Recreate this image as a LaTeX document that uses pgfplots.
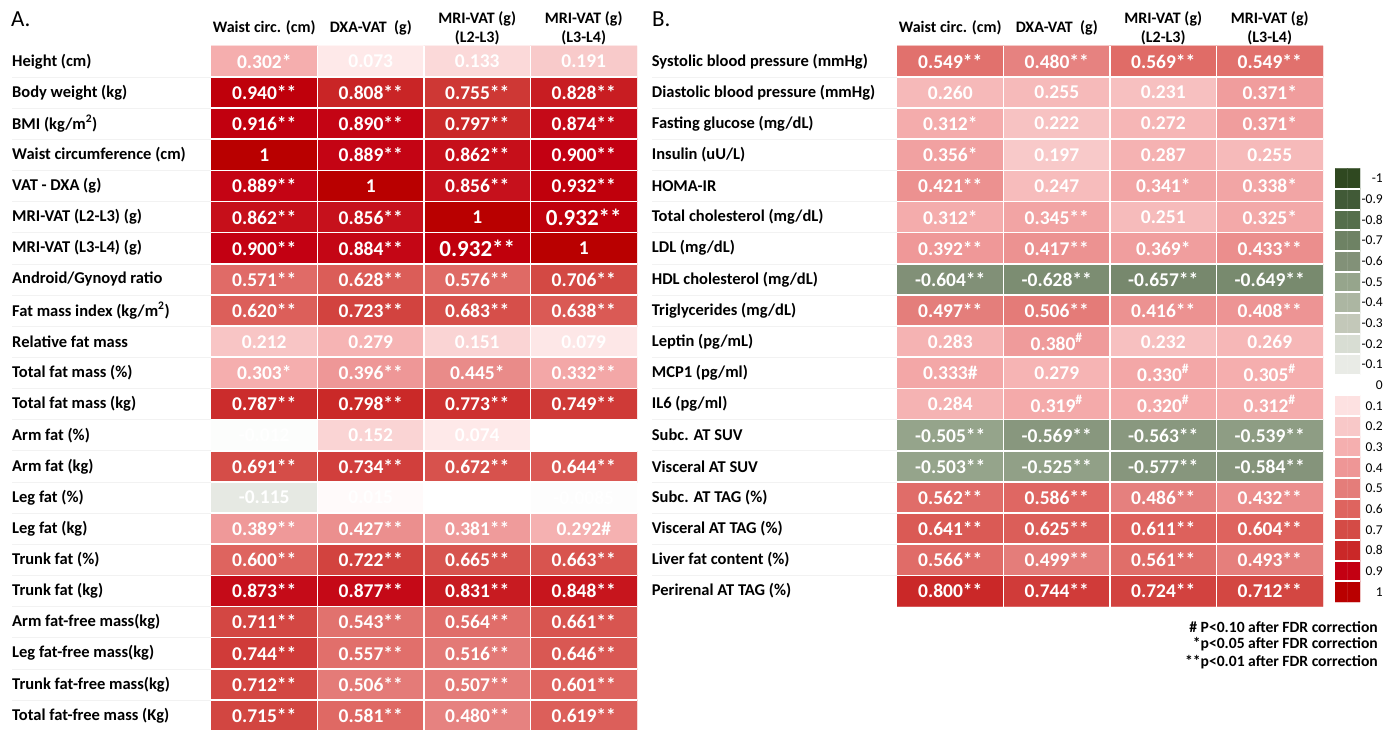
\documentclass[border=0pt]{standalone}
\usepackage{fontspec}
\setmainfont{Carlito}
\usepackage{pgfplots}
\usepackage{pgfplotstable}
\pgfplotsset{compat=1.18}
\newcommand\hs{\textsuperscript{\#}}
\newcommand\hh{\#}
\newcommand\fs[1]{\fontsize{#1}{#1}\selectfont}
\newcommand\bg[1]{{\fontsize{23}{23}\selectfont #1}}

\pgfplotsset{
  colormap={rg}{rgb255=(47,72,32) rgb255=(65,90,55) rgb255=(85,110,75) rgb255=(110,130,100) rgb255=(130,145,120) rgb255=(150,165,140) rgb255=(172,182,162) rgb255=(195,200,185) rgb255=(216,221,211) rgb255=(233,235,230) rgb255=(255,255,255) rgb255=(253,225,225) rgb255=(248,200,200) rgb255=(245,175,175) rgb255=(238,150,150) rgb255=(228,125,122) rgb255=(222,100,95) rgb255=(212,75,70) rgb255=(202,40,40) rgb255=(195,0,18) rgb255=(185,0,0)},
  heat/.style={
    scale only axis, enlargelimits=false,
    axis line style={draw=none},
    major tick length=0pt, minor tick length=0pt,
    xmin=-0.5, xmax=3.5,
    xtick={0,1,2,3}, xticklabel pos=top,
    xticklabels={{Waist circ. (cm)},{DXA-VAT\ \ (g)},{MRI-VAT (g)\\(L2-L3)},{MRI-VAT (g)\\(L3-L4)}},
    xticklabel style={anchor=center, yshift=18pt, align=center, inner sep=0pt, font=\bfseries\fontsize{16}{19}\selectfont},
    yticklabel style={anchor=west, inner sep=0pt, font=\bfseries\fs{16.5}},
    minor xtick={0.5,1.5,2.5},
    xminorgrids, yminorgrids, minor grid style={white, line width=1.6pt},
    axis on top,
    colormap name=rg, point meta min=-1, point meta max=1,
  },
  over/.style={
    scale only axis, enlargelimits=false, hide axis, clip=false,
    xmin=-0.5, xmax=3.5,
  },
  vals/.style={draw=none, mark=none, point meta=none,
     visualization depends on={value \coordindex \as \idx},
     nodes near coords={\pgfplotstablegetelem{\idx}{lab}\of#1\pgfplotsretval},
     every node near coord/.append style={anchor=center, text=white, inner sep=0pt, font=\bfseries\fs{19.5}}},
}

\pgfplotstableread{
x y v lab
0 0 0.302 0.302*
1 0 0.073 0.073
2 0 0.133 0.133
3 0 0.191 0.191
0 -1 0.940 0.940**
1 -1 0.808 0.808**
2 -1 0.755 0.755**
3 -1 0.828 0.828**
0 -2 0.916 0.916**
1 -2 0.890 0.890**
2 -2 0.797 0.797**
3 -2 0.874 0.874**
0 -3 1 1
1 -3 0.889 0.889**
2 -3 0.862 0.862**
3 -3 0.900 0.900**
0 -4 0.889 0.889**
1 -4 1 1
2 -4 0.856 0.856**
3 -4 0.932 0.932**
0 -5 0.862 0.862**
1 -5 0.856 0.856**
2 -5 1 1
3 -5 0.932 \bg{0.932**}
0 -6 0.900 0.900**
1 -6 0.884 0.884**
2 -6 0.932 \bg{0.932**}
3 -6 1 1
0 -7 0.571 0.571**
1 -7 0.628 0.628**
2 -7 0.576 0.576**
3 -7 0.706 0.706**
0 -8 0.620 0.620**
1 -8 0.723 0.723**
2 -8 0.683 0.683**
3 -8 0.638 0.638**
0 -9 0.212 0.212
1 -9 0.279 0.279
2 -9 0.151 0.151
3 -9 0.079 0.079
0 -10 0.303 0.303*
1 -10 0.396 0.396**
2 -10 0.445 0.445*
3 -10 0.332 0.332**
0 -11 0.787 0.787**
1 -11 0.798 0.798**
2 -11 0.773 0.773**
3 -11 0.749 0.749**
0 -12 -0.012 -0.012
1 -12 0.152 0.152
2 -12 0.074 0.074
3 -12 0 {}
0 -13 0.691 0.691**
1 -13 0.734 0.734**
2 -13 0.672 0.672**
3 -13 0.644 0.644**
0 -14 -0.115 -0.115
1 -14 0.015 0.015
2 -14 -0.002 -0.002
3 -14 -0.0085 -0.0085
0 -15 0.389 0.389**
1 -15 0.427 0.427**
2 -15 0.381 0.381**
3 -15 0.292 0.292\hh
0 -16 0.600 0.600**
1 -16 0.722 0.722**
2 -16 0.665 0.665**
3 -16 0.663 0.663**
0 -17 0.873 0.873**
1 -17 0.877 0.877**
2 -17 0.831 0.831**
3 -17 0.848 0.848**
0 -18 0.711 0.711**
1 -18 0.543 0.543**
2 -18 0.564 0.564**
3 -18 0.661 0.661**
0 -19 0.744 0.744**
1 -19 0.557 0.557**
2 -19 0.516 0.516**
3 -19 0.646 0.646**
0 -20 0.712 0.712**
1 -20 0.506 0.506**
2 -20 0.507 0.507**
3 -20 0.601 0.601**
0 -21 0.715 0.715**
1 -21 0.581 0.581**
2 -21 0.480 0.480**
3 -21 0.619 0.619**
}\tabA

\pgfplotstableread{
x y v lab
0 0 0.549 0.549**
1 0 0.480 0.480**
2 0 0.569 0.569**
3 0 0.549 0.549**
0 -1 0.260 0.260
1 -1 0.255 0.255
2 -1 0.231 0.231
3 -1 0.371 0.371*
0 -2 0.312 0.312*
1 -2 0.222 0.222
2 -2 0.272 0.272
3 -2 0.371 0.371*
0 -3 0.356 0.356*
1 -3 0.197 0.197
2 -3 0.287 0.287
3 -3 0.255 0.255
0 -4 0.421 0.421**
1 -4 0.247 0.247
2 -4 0.341 0.341*
3 -4 0.338 0.338*
0 -5 0.312 0.312*
1 -5 0.345 0.345**
2 -5 0.251 0.251
3 -5 0.325 0.325*
0 -6 0.392 0.392**
1 -6 0.417 0.417**
2 -6 0.369 0.369*
3 -6 0.433 0.433**
0 -7 -0.604 -0.604**
1 -7 -0.628 -0.628**
2 -7 -0.657 -0.657**
3 -7 -0.649 -0.649**
0 -8 0.497 0.497**
1 -8 0.506 0.506**
2 -8 0.416 0.416**
3 -8 0.408 0.408**
0 -9 0.283 0.283
1 -9 0.380 0.380\hs
2 -9 0.232 0.232
3 -9 0.269 0.269
0 -10 0.333 0.333\hh
1 -10 0.279 0.279
2 -10 0.330 0.330\hs
3 -10 0.305 0.305\hs
0 -11 0.284 0.284
1 -11 0.319 0.319\hs
2 -11 0.320 0.320\hs
3 -11 0.312 0.312\hs
0 -12 -0.505 -0.505**
1 -12 -0.569 -0.569**
2 -12 -0.563 -0.563**
3 -12 -0.539 -0.539**
0 -13 -0.503 -0.503**
1 -13 -0.525 -0.525**
2 -13 -0.577 -0.577**
3 -13 -0.584 -0.584**
0 -14 0.562 0.562**
1 -14 0.586 0.586**
2 -14 0.486 0.486**
3 -14 0.432 0.432**
0 -15 0.641 0.641**
1 -15 0.625 0.625**
2 -15 0.611 0.611**
3 -15 0.604 0.604**
0 -16 0.566 0.566**
1 -16 0.499 0.499**
2 -16 0.561 0.561**
3 -16 0.493 0.493**
0 -17 0.800 0.800**
1 -17 0.744 0.744**
2 -17 0.724 0.724**
3 -17 0.712 0.712**
}\tabB

\pgfplotstableread{
x y v
0 0 -1
1 0 -1
0 -1 -0.9
1 -1 -0.9
0 -2 -0.8
1 -2 -0.8
0 -3 -0.7
1 -3 -0.7
0 -4 -0.6
1 -4 -0.6
0 -5 -0.5
1 -5 -0.5
0 -6 -0.4
1 -6 -0.4
0 -7 -0.3
1 -7 -0.3
0 -8 -0.2
1 -8 -0.2
0 -9 -0.1
1 -9 -0.1
0 -10 0
1 -10 0
0 -11 0.1
1 -11 0.1
0 -12 0.2
1 -12 0.2
0 -13 0.3
1 -13 0.3
0 -14 0.4
1 -14 0.4
0 -15 0.5
1 -15 0.5
0 -16 0.6
1 -16 0.6
0 -17 0.7
1 -17 0.7
0 -18 0.8
1 -18 0.8
0 -19 0.9
1 -19 0.9
0 -20 1
1 -20 1
}\tabC

\begin{document}
\begin{tikzpicture}
\useasboundingbox (0,0) rectangle (1396pt,729pt);

% Panel A: cells
\begin{axis}[heat,
  at={(211pt,683.2pt)}, anchor=north west,
  width=426pt, height=685.3pt,
  ymin=-21.5, ymax=0.5,
  ytick={0,-1,-2,-3,-4,-5,-6,-7,-8,-9,-10,-11,-12,-13,-14,-15,-16,-17,-18,-19,-20,-21},
  yticklabels={{Height (cm)},{Body weight (kg)},{BMI (kg/m\textsuperscript{2})},{Waist circumference (cm)},{VAT - DXA (g)},{MRI-VAT (L2-L3) (g)},{MRI-VAT (L3-L4) (g)},{Android/Gynoyd ratio},{Fat mass index (kg/m\textsuperscript{2})},{Relative fat mass},{Total fat mass (\%)},{Total fat mass (kg)},{Arm fat (\%)},{Arm fat (kg)},{Leg fat (\%)},{Leg fat (kg)},{Trunk fat (\%)},{Trunk fat (kg)},{Arm fat-free mass(kg)},{Leg fat-free mass(kg)},{Trunk fat-free mass(kg)},{Total fat-free mass (Kg)}},
  yticklabel style={xshift=-199pt},
  minor ytick={-0.5,-1.5,...,-20.5},
]
\addplot[matrix plot*, mesh/cols=4, point meta=explicit] table[x=x,y=y,meta=v] {\tabA};
\end{axis}
% Panel A: values
\begin{axis}[over,
  at={(211pt,683.2pt)}, anchor=north west,
  width=426pt, height=685.3pt,
  ymin=-21.5, ymax=0.5,
]
\addplot[vals=\tabA] table[x=x,y=y] {\tabA};
\pgfplotsinvokeforeach{1,...,21}{
  \draw[black!5, line width=0.6pt] (axis cs:-0.5,{-#1+0.5}) -- ++(-199pt,0pt);
}
\end{axis}

% Panel B: cells
\begin{axis}[heat,
  at={(897pt,683.2pt)}, anchor=north west,
  width=426pt, height=560.7pt,
  ymin=-17.5, ymax=0.5,
  ytick={0,-1,-2,-3,-4,-5,-6,-7,-8,-9,-10,-11,-12,-13,-14,-15,-16,-17},
  yticklabels={{Systolic blood pressure (mmHg)},{Diastolic blood pressure (mmHg)},{Fasting glucose (mg/dL)},{Insulin (uU/L)},{HOMA-IR},{Total cholesterol (mg/dL)},{LDL (mg/dL)},{HDL cholesterol (mg/dL)},{Triglycerides (mg/dL)},{Leptin (pg/mL)},{MCP1 (pg/ml)},{IL6 (pg/ml)},{Subc. AT SUV},{Visceral AT SUV},{Subc. AT TAG (\%)},{Visceral AT TAG (\%)},{Liver fat content (\%)},{Perirenal AT TAG (\%)}},
  yticklabel style={xshift=-245.3pt},
  minor ytick={-0.5,-1.5,...,-16.5},
]
\addplot[matrix plot*, mesh/cols=4, point meta=explicit] table[x=x,y=y,meta=v] {\tabB};
\end{axis}
% Panel B: values
\begin{axis}[over,
  at={(897pt,683.2pt)}, anchor=north west,
  width=426pt, height=560.7pt,
  ymin=-17.5, ymax=0.5,
]
\addplot[vals=\tabB] table[x=x,y=y] {\tabB};
\pgfplotsinvokeforeach{1,...,17}{
  \draw[black!5, line width=0.6pt] (axis cs:-0.5,{-#1+0.5}) -- ++(-245.3pt,0pt);
}
\end{axis}

% Colour scale
\begin{axis}[
  at={(1335pt,560.7pt)}, anchor=north west,
  scale only axis, width=25pt, height=433.7pt,
  enlargelimits=false, axis line style={draw=none},
  major tick length=0pt, minor tick length=0pt,
  xmin=-0.5, xmax=1.5, xtick=\empty,
  ymin=-20.5, ymax=0.5,
  ytick={0,-1,-2,-3,-4,-5,-6,-7,-8,-9,-10,-11,-12,-13,-14,-15,-16,-17,-18,-19,-20},
  yticklabels={-1,-0.9,-0.8,-0.7,-0.6,-0.5,-0.4,-0.3,-0.2,-0.1,0,0.1,0.2,0.3,0.4,0.5,0.6,0.7,0.8,0.9,1},
  yticklabel pos=right,
  yticklabel style={anchor=east, inner sep=0pt, xshift=23pt, font=\fs{13.5}},
  minor ytick={-0.5,-1.5,...,-19.5},
  yminorgrids, minor grid style={white, line width=2pt},
  axis on top, colormap name=rg,
]
\addplot[matrix plot*, mesh/cols=2, point meta=explicit, point meta min=-1, point meta max=1] table[x=x,y=y,meta=v] {\tabC};
\end{axis}

\node[anchor=west, inner sep=0pt, font=\fs{23}] at (11pt,710pt) {A.};
\node[anchor=west, inner sep=0pt, font=\fs{23}] at (652pt,710pt) {B.};

\node[anchor=east, inner sep=0pt, font=\bfseries\fs{15.6}] at (1378pt,102.3pt) {\# P<0.10 after FDR correction};
\node[anchor=east, inner sep=0pt, font=\bfseries\fs{15.6}] at (1378pt,84.7pt) {*p<0.05 after FDR correction};
\node[anchor=east, inner sep=0pt, font=\bfseries\fs{15.6}] at (1378pt,66.7pt) {**p<0.01 after FDR correction};
\end{tikzpicture}
\end{document}
